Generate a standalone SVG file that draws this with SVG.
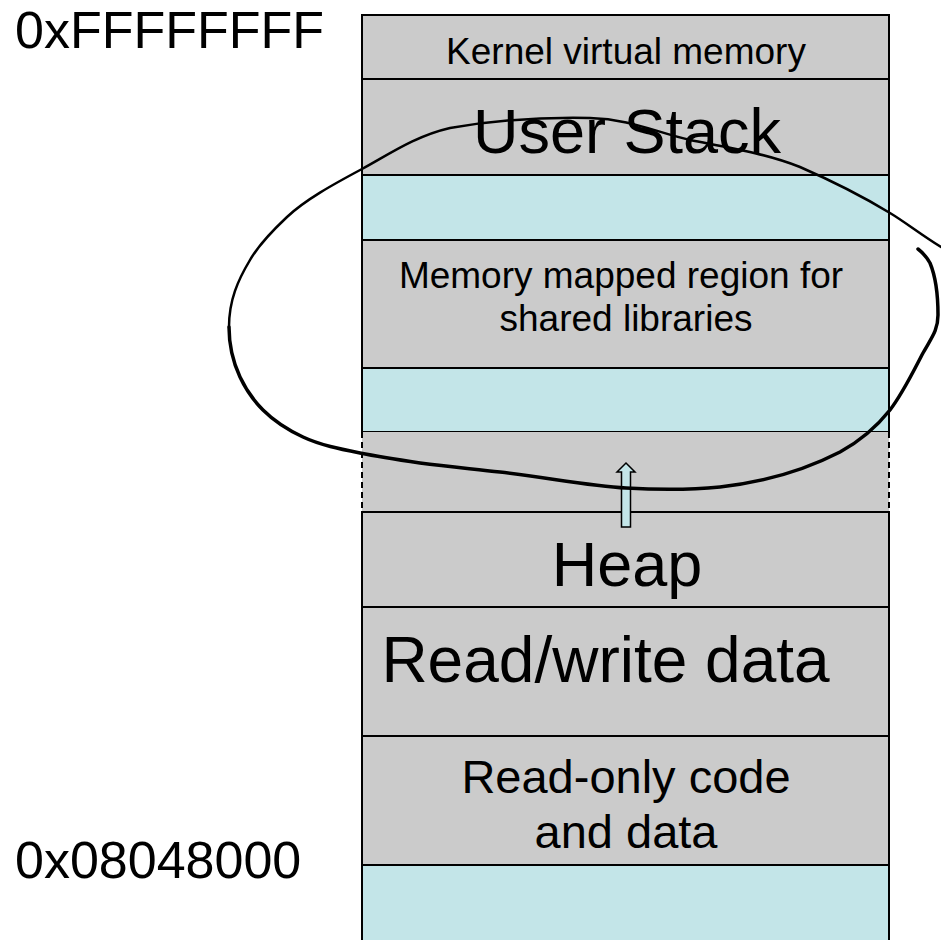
<svg xmlns="http://www.w3.org/2000/svg" width="941" height="940" viewBox="0 0 941 940">
  <style>
    .seg { stroke: #000; stroke-width: 2; }
    .gray { fill: #CBCBCB; }
    .cyan { fill: #C3E5E8; }
    .lbl { font-family: "Liberation Sans", Arial, sans-serif; fill: #000; text-anchor: middle; }
    .addr { font-family: "Liberation Sans", Arial, sans-serif; font-size: 52px; fill: #000; }
    .loop { fill: none; stroke: #000; stroke-linecap: round; stroke-linejoin: round; }
  </style>
  <rect width="941" height="940" fill="#fff"/>

  <!-- address labels -->
  <text class="addr" x="15" y="48">0xFFFFFFFF</text>
  <text class="addr" x="15" y="878">0x08048000</text>

  <!-- memory segments, top to bottom -->
  <g id="kernel">
    <rect class="gray seg" x="362" y="15" width="527" height="64"/>
    <text class="lbl" x="626" y="64" font-size="37">Kernel virtual memory</text>
  </g>
  <g id="user-stack">
    <rect class="gray seg" x="362" y="79" width="527" height="96"/>
    <text class="lbl" x="627" y="153" font-size="63">User Stack</text>
  </g>
  <g id="gap-stack">
    <rect class="cyan seg" x="362" y="175" width="527" height="65"/>
  </g>
  <g id="shared-libs">
    <rect class="gray seg" x="362" y="240" width="527" height="128"/>
    <text class="lbl" x="621" y="288" font-size="37">Memory mapped region for</text>
    <text class="lbl" x="626" y="331" font-size="37">shared libraries</text>
  </g>
  <g id="gap-libs">
    <rect class="cyan seg" x="362" y="368" width="527" height="64"/>
  </g>
  <g id="heap-growth">
    <rect class="gray" x="362" y="432" width="527" height="80"/>
    <line x1="362" y1="432" x2="362" y2="512" stroke="#000" stroke-width="2" stroke-dasharray="6,4"/>
    <line x1="889" y1="432" x2="889" y2="512" stroke="#000" stroke-width="2" stroke-dasharray="6,4"/>
  </g>
  <g id="heap">
    <rect class="gray seg" x="362" y="512" width="527" height="95"/>
    <text class="lbl" x="627" y="586" font-size="63">Heap</text>
  </g>
  <g id="rw-data">
    <rect class="gray seg" x="362" y="607" width="527" height="129"/>
    <text class="lbl" x="605.5" y="682" font-size="64">Read/write data</text>
  </g>
  <g id="ro-code">
    <rect class="gray seg" x="362" y="736" width="527" height="129"/>
    <text class="lbl" x="626" y="793" font-size="47">Read-only code</text>
    <text class="lbl" x="626" y="848" font-size="47">and data</text>
  </g>
  <g id="gap-low">
    <rect class="cyan seg" x="362" y="865" width="527" height="80"/>
  </g>

  <g id="connectors">
    <!-- hollow arrow: heap grows upward -->
    <path d="M621.5,527 L621.5,472 L617,472 L626,463 L635,472 L630.5,472 L630.5,527 Z" fill="#C3E5E8" stroke="#000" stroke-width="1.5"/>
  </g>

  <!-- hand-drawn loop around the shared-library area -->
  <g id="loop">
    <path class="loop" stroke-width="2.5" d="M941,247 C920,234 905,222 890,213 C862,196 830,180 800,167 C765,153 725,147 690,140 C655,132 630,119 590,118 C540,117 490,121 450,128 C415,136 388,155 362,169 C332,185 305,200 287,217 C270,233 258,246 250,260 C238,280 229,300 229,327"/>
    <path class="loop" stroke-width="3.5" d="M229,327 C229,345 233,362 240,377 C247,392 253,400 263,410 C275,422 288,430 303,437 C320,445 340,449 360,453 C380,457 400,460 420,463 C450,467 475,469 500,472 C550,478 590,486 626,488 C660,490 690,490 720,487 C765,482 805,470 840,452 C862,440 878,425 890,410 C903,393 913,372 923,353 C932,337 938,330 938,315 C938,290 935,275 930,263 C926,256 922,252 918,249"/>
  </g>
</svg>
